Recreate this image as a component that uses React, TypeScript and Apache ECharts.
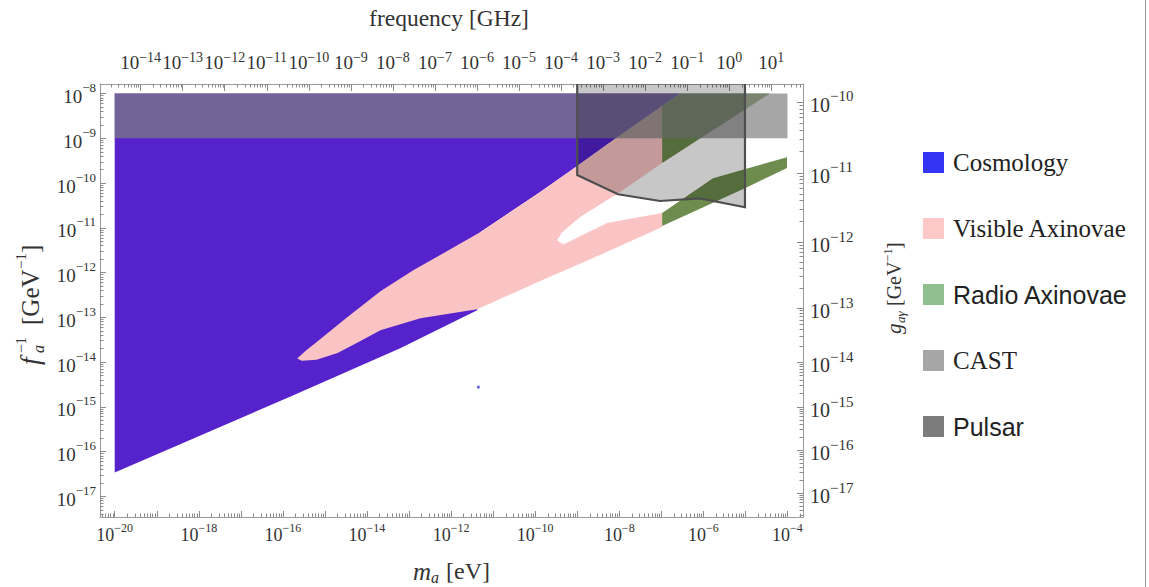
import React, { useEffect, useRef } from 'react';
import * as echarts from 'echarts';

// ---- axis extents (log10 units) ----
const X_MIN = -20.35;
const X_MAX = -3.63;
const Y_MIN = -17.463;
const Y_MAX = -7.785;

// ---- tick labels ----
const MASS_LABEL_EXP = [-20, -18, -16, -14, -12, -10, -8, -6, -4];
const MASS_DECADE_EXP = [-20, -19, -18, -17, -16, -15, -14, -13, -12, -11, -10, -9, -8, -7, -6, -5, -4];
const FREQ_LABEL_EXP = [-14, -13, -12, -11, -10, -9, -8, -7, -6, -5, -4, -3, -2, -1, 0, 1];
const FREQ_SHIFT = 5.3835; // log10(GHz per eV)
const FA_LABEL_EXP = [-17, -16, -15, -14, -13, -12, -11, -10, -9, -8];
const G_LABEL_EXP = [-10, -11, -12, -13, -14, -15, -16, -17];
const G_LABEL_POS = [-8.187, -9.774, -11.317, -12.792, -13.999, -15.005, -15.966, -16.927];

// ---- regions: [log10 m_a (eV), log10 f_a^-1 (GeV^-1)] ----
const cosmology = [
  [-20, -8], [-6.556, -8], [-8.147, -9.04], [-9.0, -9.62], [-9.88, -10.2], [-11.31, -11.1],
  [-11.38, -12.84], [-13.21, -13.69], [-15.75, -14.74], [-20, -16.47],
];
const visibleAxinovae = [
  [-15.66, -13.92], [-15.45, -13.74], [-15.1, -13.48], [-14.5, -13.02], [-13.68, -12.42], [-12.9, -11.95],
  [-11.31, -11.1], [-9.88, -10.2], [-9.0, -9.62], [-8.147, -9.04], [-6.98, -8.28],
  [-6.98, -9.55], [-7.98, -10.2], [-8.93, -10.76], [-9.36, -11.1], [-9.48, -11.28],
  [-9.33, -11.37], [-8.29, -10.89], [-6.98, -10.67], [-6.98, -10.98], [-8.46, -11.607],
  [-9.88, -12.188], [-11.38, -12.82], [-12.73, -13.02], [-13.68, -13.29], [-14.2, -13.55],
  [-14.7, -13.8], [-15.2, -13.95], [-15.55, -13.97],
];
const radioUpper = [[-6.98, -8.28], [-6.556, -8], [-4.42, -8], [-6.98, -9.55]];
const radioLower = [
  [-6.98, -10.67], [-5.77, -9.89], [-4.01, -9.42], [-4.01, -9.66], [-4.96, -10.09], [-6.98, -10.96],
];
const cast = [[-20, -9], [-4, -9], [-4, -8], [-20, -8]];
const pulsar = [
  [-9, -7.5], [-9, -9.82], [-8.03, -10.25], [-7.03, -10.4], [-6.08, -10.34], [-5.01, -10.54], [-5.01, -7.5],
];
const strayPoint = [[-11.35, -14.56]];

const SERIF = "'Liberation Serif', 'Times New Roman', serif";
const SANS = "'Liberation Sans', Arial, sans-serif";
const TXT = '#333333';
const FRAME = '#9a9a9a';
const TICK = '#8a8a8a';

const LOG_MINOR = [2, 3, 4, 5, 6, 7, 8, 9].map((k) => Math.log10(k));

function minorTicks(decades: number[], shift: number, lo: number, hi: number) {
  const out: number[] = [];
  decades.forEach((d) => LOG_MINOR.forEach((m) => {
    const v = d + m - shift;
    if (v > lo && v < hi) out.push(v);
  }));
  return out;
}

function rightMinor() {
  const out: number[] = [];
  for (let i = 0; i < G_LABEL_POS.length; i++) {
    const upper = G_LABEL_POS[i];
    const lower = i + 1 < G_LABEL_POS.length ? G_LABEL_POS[i + 1] : upper - (G_LABEL_POS[i - 1] - upper);
    LOG_MINOR.forEach((m) => {
      const v = lower + m * (upper - lower);
      if (v > Y_MIN && v < Y_MAX) out.push(v);
    });
  }
  return out;
}

function richFor(base: number, sup: number, extra = 4) {
  return {
    b: { fontFamily: SERIF, fontSize: base, color: TXT, lineHeight: base + extra, verticalAlign: 'bottom' },
    s: { fontFamily: SERIF, fontSize: sup, color: TXT, lineHeight: sup, verticalAlign: 'top' },
  };
}
function powLabel(n: number) {
  return n < 0 ? `{b|10}{s|\u2212${-n}}` : `{b|10}{s|${n}}`;
}

function poly(name: string, pts: number[][], fill: string, legendColor: string, stroke?: string, lineWidth?: number) {
  return {
    type: 'custom',
    name,
    coordinateSystem: 'cartesian2d',
    xAxisIndex: 0,
    yAxisIndex: 0,
    clip: true,
    silent: true,
    itemStyle: { color: legendColor },
    data: pts,
    encode: { x: 0, y: 1 },
    renderItem: (params: any, api: any) => {
      if (params.dataIndex !== 0) return null;
      const points = pts.map((p) => api.coord(p));
      return {
        type: 'polygon',
        shape: { points },
        style: { fill, stroke: stroke || 'none', lineWidth: lineWidth || 0, lineJoin: 'miter' },
      };
    },
  };
}

function txt(x: number, y: number, text: string, size: number, italic = false, extra: any = {}) {
  return {
    type: 'text', x, y, silent: true,
    style: {
      text, fontSize: size, fontFamily: SERIF, fontStyle: italic ? 'italic' : 'normal',
      fill: TXT, align: 'left', verticalAlign: 'middle', ...extra,
    },
  };
}

export default function App() {
  const ref = useRef<HTMLDivElement>(null);
  useEffect(() => {
    if (!ref.current) return;
    const chart = echarts.init(ref.current, null, { renderer: 'svg' });

    const baseX = { type: 'value', min: X_MIN, max: X_MAX, splitLine: { show: false }, scale: true };
    const baseY = { type: 'value', min: Y_MIN, max: Y_MAX, splitLine: { show: false }, scale: true };

    const option: any = {
      animation: false,
      backgroundColor: '#ffffff',
      grid: { left: 100, right: 346, top: 84, bottom: 70 },
      xAxis: [
        {
          ...baseX, position: 'bottom',
          axisLine: { show: true, onZero: false, lineStyle: { color: FRAME, width: 1 } },
          axisTick: { show: true, inside: true, length: 6, customValues: MASS_DECADE_EXP, lineStyle: { color: TICK } },
          axisLabel: {
            show: true, margin: 5, customValues: MASS_LABEL_EXP,
            formatter: (v: number) => powLabel(Math.round(v)), rich: richFor(18, 12),
          },
        },
        {
          ...baseX, position: 'bottom',
          axisLine: { show: false, onZero: false },
          axisTick: { show: true, inside: true, length: 3.5, customValues: minorTicks(MASS_DECADE_EXP.concat([-21]), 0, X_MIN, X_MAX), lineStyle: { color: TICK } },
          axisLabel: { show: false },
        },
        {
          ...baseX, position: 'top',
          axisLine: { show: true, onZero: false, lineStyle: { color: FRAME, width: 1 } },
          axisTick: { show: true, inside: true, length: 7, customValues: FREQ_LABEL_EXP.map((n) => n - FREQ_SHIFT), lineStyle: { color: TICK } },
          axisLabel: {
            show: true, margin: 12, customValues: FREQ_LABEL_EXP.map((n) => n - FREQ_SHIFT),
            formatter: (v: number) => powLabel(Math.round(v + FREQ_SHIFT)), rich: richFor(19, 14, 3),
          },
        },
        {
          ...baseX, position: 'top',
          axisLine: { show: false, onZero: false },
          axisTick: { show: true, inside: true, length: 3.5, customValues: minorTicks(FREQ_LABEL_EXP.concat([-15]), FREQ_SHIFT, X_MIN, X_MAX), lineStyle: { color: TICK } },
          axisLabel: { show: false },
        },
      ],
      yAxis: [
        {
          ...baseY, position: 'left',
          axisLine: { show: true, onZero: false, lineStyle: { color: FRAME, width: 1 } },
          axisTick: { show: true, inside: true, length: 6, customValues: FA_LABEL_EXP, lineStyle: { color: TICK } },
          axisLabel: {
            show: true, margin: 4, customValues: FA_LABEL_EXP,
            formatter: (v: number) => powLabel(Math.round(v)), rich: richFor(19, 13, 6),
          },
        },
        {
          ...baseY, position: 'left',
          axisLine: { show: false, onZero: false },
          axisTick: { show: true, inside: true, length: 3.5, customValues: minorTicks(FA_LABEL_EXP.concat([-18]), 0, Y_MIN, Y_MAX), lineStyle: { color: TICK } },
          axisLabel: { show: false },
        },
        {
          ...baseY, position: 'right',
          axisLine: { show: true, onZero: false, lineStyle: { color: FRAME, width: 1 } },
          axisTick: { show: true, inside: true, length: 6, customValues: G_LABEL_POS, lineStyle: { color: TICK } },
          axisLabel: {
            show: true, margin: 7, customValues: G_LABEL_POS,
            formatter: (v: number) => {
              let best = 0;
              G_LABEL_POS.forEach((p, i) => { if (Math.abs(p - v) < Math.abs(G_LABEL_POS[best] - v)) best = i; });
              return powLabel(G_LABEL_EXP[best]);
            },
            rich: richFor(20, 15, 6),
          },
        },
        {
          ...baseY, position: 'right',
          axisLine: { show: false, onZero: false },
          axisTick: { show: true, inside: true, length: 3.5, customValues: rightMinor(), lineStyle: { color: TICK } },
          axisLabel: { show: false },
        },
      ],
      legend: {
        orient: 'vertical', left: 918, top: 145, itemWidth: 21, itemHeight: 21, itemGap: 41,
        icon: 'rect', selectedMode: false,
        textStyle: { fontSize: 25, color: '#222', lineHeight: 21, padding: [0, 0, 0, 4] },
        data: [
          { name: 'Cosmology', itemStyle: { color: '#3434f4' }, textStyle: { fontFamily: SERIF } },
          { name: 'Visible Axinovae', itemStyle: { color: '#fdc8c8' }, textStyle: { fontFamily: SERIF } },
          { name: 'Radio Axinovae', itemStyle: { color: '#8fbf8f' }, textStyle: { fontFamily: SANS } },
          { name: 'CAST', itemStyle: { color: '#a6a6a6' }, textStyle: { fontFamily: SERIF } },
          { name: 'Pulsar', itemStyle: { color: '#7c7c7c' }, textStyle: { fontFamily: SANS } },
        ],
      },
      series: [
        poly('Cosmology', cosmology, '#5522cc', '#3434f4'),
        poly('Visible Axinovae', visibleAxinovae, '#fac4c4', '#fdc8c8'),
        poly('Radio Axinovae', radioUpper, '#6d8c4e', '#8fbf8f'),
        poly('Radio Axinovae', radioLower, '#6d8c4e', '#8fbf8f'),
        poly('CAST', cast, 'rgba(128,128,128,0.7)', '#a6a6a6'),
        poly('Pulsar', pulsar, 'rgba(0,0,0,0.22)', '#7c7c7c', '#4e4e4e', 2.2),
        {
          type: 'scatter', name: 'dot', data: strayPoint, symbolSize: 3, silent: true,
          itemStyle: { color: '#3a3ad8' }, xAxisIndex: 0, yAxisIndex: 0,
        },
      ],
      graphic: [
        { type: 'line', silent: true, shape: { x1: 1145.5, y1: 0, x2: 1145.5, y2: 587 }, style: { stroke: '#9a9a9a', lineWidth: 1 } },
        txt(449, 18, 'frequency [GHz]', 23.5, false, { align: 'center' }),
        txt(413, 571, 'm', 25, true),
        txt(431, 577, 'a', 16, true),
        txt(446, 571, '[eV]', 24),
        {
          type: 'group', x: 30, y: 365, rotation: Math.PI / 2, silent: true,
          children: [
            txt(0, 0, 'f', 27, true),
            txt(12, 8, 'a', 16, true),
            txt(12, -9, '\u22121', 15),
            txt(40, 0, '[GeV', 25),
            txt(96, -9, '\u22121', 15),
            txt(112, 0, ']', 25),
          ],
        },
        {
          type: 'group', x: 894, y: 334, rotation: Math.PI / 2, silent: true,
          children: [
            txt(0, 0, 'g', 21, true),
            txt(11, 6, 'a\u03b3', 13, true),
            txt(28, 0, '[GeV', 20),
            txt(72, -7, '\u22121', 13),
            txt(85, 0, ']', 20),
          ],
        },
      ],
    };
    chart.setOption(option);
    return () => chart.dispose();
  }, []);
  return <div ref={ref} style={{ position: 'absolute', left: 0, top: 0, width: 1149, height: 587, background: '#fff' }} />;
}
